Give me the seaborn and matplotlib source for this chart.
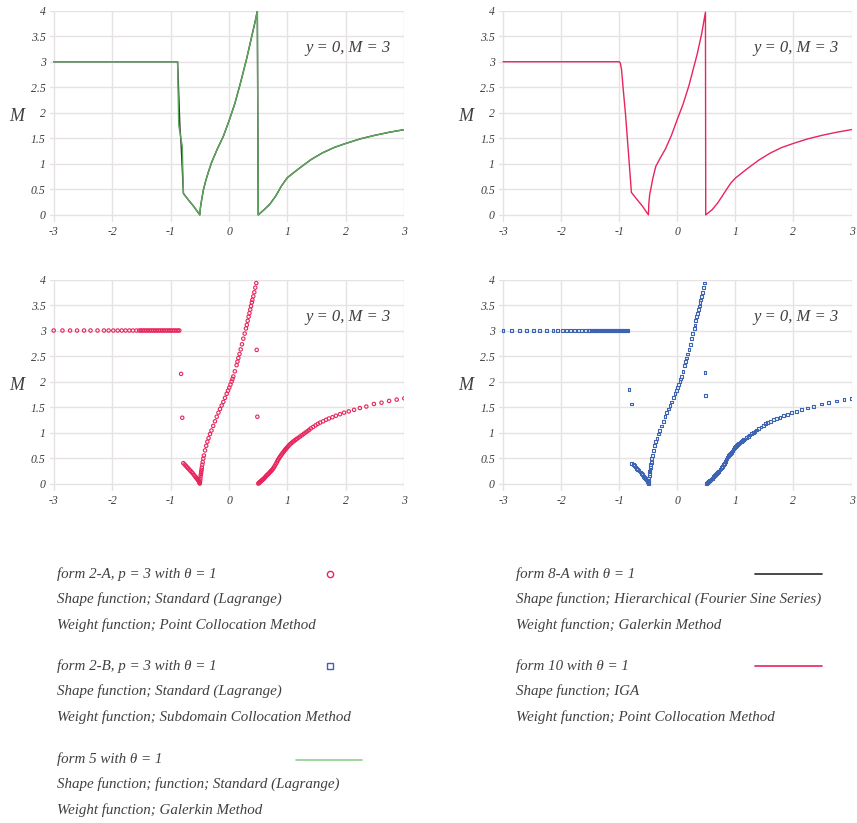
import numpy as np
import pandas as pd
import matplotlib
matplotlib.use("Agg")
import matplotlib.pyplot as plt
from matplotlib.lines import Line2D
import seaborn as sns

# ---------------------------------------------------------------------------
# Data: M along the line y = 0 for M = 3
# ---------------------------------------------------------------------------
# collocation results (shared branches)
flat_x = [-3.0, -2.85, -2.72, -2.60, -2.48, -2.37, -2.25, -2.14, -2.06, -1.98,
          -1.905, -1.835, -1.77, -1.705, -1.645, -1.585, -1.535, -1.505, -1.475,
          -1.445, -1.415, -1.385, -1.355, -1.325, -1.295, -1.265, -1.235, -1.205,
          -1.175, -1.145, -1.115, -1.085, -1.055, -1.025, -0.995, -0.965, -0.935,
          -0.905, -0.875, -0.85]
flat_m = [3.0, 3.0, 3.0, 3.0, 3.0, 3.0, 3.0, 3.0, 3.0, 3.0,
          3.0, 3.0, 3.0, 3.0, 3.0, 3.0, 3.0, 3.0, 3.0,
          3.0, 3.0, 3.0, 3.0, 3.0, 3.0, 3.0, 3.0, 3.0,
          3.0, 3.0, 3.0, 3.0, 3.0, 3.0, 3.0, 3.0, 3.0,
          3.0, 3.0, 3.0]

fall_x = [-0.782, -0.76, -0.74, -0.72, -0.70, -0.68, -0.66, -0.64, -0.62, -0.60,
          -0.58, -0.565, -0.55, -0.54, -0.53, -0.52, -0.51, -0.505, -0.50]
fall_m = [0.40, 0.375, 0.35, 0.325, 0.30, 0.275, 0.25, 0.225, 0.20, 0.17,
          0.14, 0.12, 0.10, 0.085, 0.07, 0.05, 0.035, 0.02, 0.0]

rise_x = [-0.498, -0.495, -0.49, -0.485, -0.48, -0.475, -0.47, -0.465, -0.457,
          -0.45, -0.44, -0.43, -0.41, -0.39, -0.37, -0.35, -0.325, -0.30, -0.27,
          -0.24, -0.21, -0.18, -0.154, -0.125, -0.097, -0.068, -0.04, -0.017,
          0.005, 0.025, 0.046, 0.06, 0.074, 0.10, 0.13, 0.145, 0.16, 0.18, 0.20,
          0.222, 0.245, 0.268, 0.29, 0.305, 0.32, 0.335, 0.35, 0.364, 0.377,
          0.39, 0.40, 0.416, 0.433, 0.45, 0.467]
rise_m = [0.02, 0.06, 0.10, 0.15, 0.19, 0.23, 0.27, 0.31, 0.37,
          0.42, 0.49, 0.55, 0.65, 0.74, 0.82, 0.89, 0.97, 1.04, 1.13,
          1.22, 1.31, 1.39, 1.46, 1.53, 1.60, 1.68, 1.76, 1.82,
          1.88, 1.94, 2.00, 2.05, 2.10, 2.20, 2.32, 2.39, 2.46, 2.54, 2.63,
          2.73, 2.84, 2.94, 3.04, 3.11, 3.19, 3.27, 3.34, 3.41, 3.48,
          3.55, 3.60, 3.67, 3.75, 3.84, 3.93]

tail_x = [0.502, 0.51, 0.52, 0.53, 0.54, 0.55, 0.56, 0.57, 0.58, 0.59, 0.60,
          0.615, 0.63, 0.645, 0.66, 0.675, 0.69, 0.705, 0.72, 0.735, 0.75,
          0.765, 0.78, 0.795, 0.81, 0.825, 0.84, 0.855, 0.87, 0.885, 0.90,
          0.915, 0.93, 0.945, 0.96, 0.975, 0.99, 1.005, 1.02, 1.04, 1.06, 1.08,
          1.10, 1.12, 1.14, 1.16, 1.19, 1.22, 1.25, 1.28, 1.31, 1.34, 1.37,
          1.40, 1.44, 1.48, 1.52, 1.56, 1.61, 1.66, 1.71, 1.77, 1.83, 1.90,
          1.97, 2.05, 2.14, 2.24, 2.35, 2.48, 2.61, 2.74, 2.87, 3.0]
tail_m = [0.00, 0.01, 0.02, 0.03, 0.04, 0.05, 0.06, 0.07, 0.08, 0.09, 0.10,
          0.12, 0.14, 0.16, 0.175, 0.19, 0.21, 0.23, 0.245, 0.265, 0.285,
          0.31, 0.34, 0.37, 0.40, 0.435, 0.465, 0.495, 0.52, 0.545, 0.57,
          0.595, 0.615, 0.64, 0.66, 0.68, 0.70, 0.72, 0.74, 0.765, 0.785, 0.805,
          0.825, 0.84, 0.86, 0.875, 0.90, 0.925, 0.95, 0.975, 1.00, 1.025, 1.05,
          1.08, 1.11, 1.14, 1.17, 1.195, 1.22, 1.25, 1.275, 1.30, 1.33, 1.36,
          1.39, 1.415, 1.445, 1.48, 1.51, 1.56, 1.585, 1.62, 1.645, 1.67]

# isolated values at the two discontinuities
jump_x_2a = [-0.82, -0.80, 0.474, 0.485]
jump_m_2a = [2.15, 1.29, 2.62, 1.31]
jump_x_2b = [-0.83, -0.79, 0.477, 0.485]
jump_m_2b = [1.85, 1.56, 2.18, 1.73]

# continuous solutions
form5_x = [-3.0, -0.88, -0.86, -0.80, -0.78, -0.70, -0.60, -0.50, -0.49, -0.47,
           -0.44, -0.40, -0.35, -0.30, -0.20, -0.10, 0.0, 0.10, 0.20, 0.30,
           0.40, 0.45, 0.485, 0.50, 0.60, 0.70, 0.80, 0.90, 1.0, 1.2, 1.4, 1.6,
           1.8, 2.0, 2.25, 2.5, 2.75, 3.0]
form5_m = [3.0, 3.0, 1.75, 1.35, 0.42, 0.30, 0.16, 0.0, 0.13, 0.28,
           0.48, 0.66, 0.85, 1.02, 1.29, 1.53, 1.84, 2.18, 2.60, 3.05,
           3.55, 3.80, 4.0, 0.0, 0.10, 0.21, 0.37, 0.57, 0.73, 0.91, 1.08, 1.215,
           1.32, 1.40, 1.49, 1.56, 1.62, 1.67]

form8a_x = [-3.0, -0.88, -0.84, -0.82, -0.78, -0.70, -0.60, -0.50, -0.49, -0.47,
            -0.44, -0.40, -0.35, -0.30, -0.20, -0.10, 0.0, 0.10, 0.20, 0.30,
            0.40, 0.45, 0.485, 0.50, 0.60, 0.70, 0.80, 0.90, 1.0, 1.2, 1.4, 1.6,
            1.8, 2.0, 2.25, 2.5, 2.75, 3.0]
form8a_m = [3.0, 3.0, 1.72, 1.40, 0.42, 0.30, 0.16, 0.0, 0.13, 0.28,
            0.48, 0.66, 0.85, 1.02, 1.29, 1.53, 1.84, 2.18, 2.60, 3.05,
            3.55, 3.80, 4.0, 0.0, 0.10, 0.21, 0.37, 0.57, 0.73, 0.91, 1.08, 1.215,
            1.32, 1.40, 1.49, 1.56, 1.62, 1.67]

form10_x = [-3.0, -1.0, -0.98, -0.96, -0.93, -0.89, -0.85, -0.83, -0.79, -0.70,
            -0.60, -0.497, -0.49, -0.475, -0.457, -0.42, -0.37, -0.30, -0.20,
            -0.10, 0.0, 0.10, 0.20, 0.343, 0.42, 0.485, 0.49, 0.60, 0.70, 0.77,
            0.85, 0.92, 1.0, 1.2, 1.4, 1.6, 1.8, 2.0, 2.25, 2.5, 2.75, 3.0]
form10_m = [3.0, 3.0, 2.97, 2.85, 2.45, 1.95, 1.35, 1.05, 0.44, 0.31,
            0.17, 0.0, 0.22, 0.40, 0.50, 0.72, 0.95, 1.10, 1.30,
            1.56, 1.87, 2.17, 2.53, 3.15, 3.55, 3.97, 0.0, 0.10, 0.24, 0.36,
            0.50, 0.62, 0.72, 0.90, 1.07, 1.21, 1.32, 1.40, 1.49, 1.56, 1.62, 1.67]

x_ticks = [-3, -2, -1, 0, 1, 2, 3]
y_ticks = [0, 0.5, 1, 1.5, 2, 2.5, 3, 3.5, 4]
y_tick_labels = ["0", "0.5", "1", "1.5", "2", "2.5", "3", "3.5", "4"]
panel_note = "y = 0, M = 3"

legend_entries = [
    ["form 2-A, p = 3 with θ = 1", "Shape function; Standard (Lagrange)",
     "Weight function; Point Collocation Method"],
    ["form 2-B, p = 3 with θ = 1", "Shape function; Standard (Lagrange)",
     "Weight function; Subdomain Collocation Method"],
    ["form 5 with θ = 1", "Shape function; function; Standard (Lagrange)",
     "Weight function; Galerkin Method"],
    ["form 8-A with θ = 1", "Shape function; Hierarchical (Fourier Sine Series)",
     "Weight function; Galerkin Method"],
    ["form 10 with θ = 1", "Shape function; IGA",
     "Weight function; Point Collocation Method"],
]

# ---------------------------------------------------------------------------
# Style
# ---------------------------------------------------------------------------
C_RED = "#e8245c"
C_BLUE = "#3d63b3"
C_GREEN = "#5aa95a"
C_GREEN_LEG = "#8fd08f"
C_BLACK = "#2a2a2a"
C_GRID = "#e6e1e4"
C_TEXT = "#404040"

sns.set_theme(style="white")
plt.rcParams["font.family"] = ["Liberation Serif", "DejaVu Serif"]
plt.rcParams["font.style"] = "italic"

W, H = 857, 823
fig = plt.figure(figsize=(W / 100, H / 100), dpi=100)


def px_axes(left, top, right, bottom):
    return fig.add_axes([left / W, 1 - bottom / H, (right - left) / W, (bottom - top) / H])


def style_axes(ax):
    ax.set_xlim(-3.07, 3.0)
    ax.set_ylim(-0.14, 4.0)
    ax.set_xticks(x_ticks)
    ax.set_xticklabels([str(t) for t in x_ticks])
    ax.set_yticks(y_ticks)
    ax.set_yticklabels(y_tick_labels)
    ax.grid(True, color=C_GRID, linewidth=1.0)
    ax.set_axisbelow(True)
    for s in ax.spines.values():
        s.set_visible(False)
    ax.tick_params(length=0, labelsize=8.5, colors=C_TEXT, pad=3)
    for lab in ax.get_xticklabels() + ax.get_yticklabels():
        lab.set_fontstyle("italic")
    ax.set_xlabel("")
    ax.set_ylabel("M", rotation=0, fontsize=13, color=C_TEXT, labelpad=10,
                  fontstyle="italic", va="center")
    ax.text(2.77, 3.27, panel_note, ha="right", va="center", fontsize=12,
            color=C_TEXT, fontstyle="italic")


def line(ax, xs, ms, color, lw=1.0):
    df = pd.DataFrame({"x": xs, "M": ms})
    sns.lineplot(data=df, x="x", y="M", ax=ax, color=color, linewidth=lw,
                 sort=False, estimator=None)


def points(ax, xs, ms, color, marker, size):
    df = pd.DataFrame({"x": xs, "M": ms})
    sns.scatterplot(data=df, x="x", y="M", ax=ax, marker=marker, s=size,
                    linewidth=0.8)
    pc = ax.collections[-1]
    pc.set_facecolor("none")
    pc.set_edgecolor(color)
    pc.set_linewidth(0.8)


# column positions in pixels (left/right edge of each data area)
L_LEFT, L_RIGHT = 49.6, 404.3
R_LEFT, R_RIGHT = 499.0, 851.5

# top-left: form 8-A (under) and form 5
ax1 = px_axes(L_LEFT, 10.7, L_RIGHT, 222)
line(ax1, form8a_x, form8a_m, C_BLACK, 1.0)
line(ax1, form5_x, form5_m, C_GREEN, 1.0)
style_axes(ax1)

# top-right: form 10
ax2 = px_axes(R_LEFT, 10.7, R_RIGHT, 222)
line(ax2, form10_x, form10_m, C_RED, 1.0)
style_axes(ax2)

# bottom-left: form 2-A
ax3 = px_axes(L_LEFT, 279.5, L_RIGHT, 490.7)
for xs, ms in [(flat_x, flat_m), (fall_x, fall_m), (rise_x, rise_m),
               (tail_x, tail_m), (jump_x_2a, jump_m_2a)]:
    points(ax3, xs, ms, C_RED, "o", 6)
style_axes(ax3)

# bottom-right: form 2-B
ax4 = px_axes(R_LEFT, 279.5, R_RIGHT, 490.7)
for xs, ms in [(flat_x, flat_m), (fall_x, fall_m), (rise_x, rise_m),
               (tail_x, tail_m), (jump_x_2b, jump_m_2b)]:
    points(ax4, xs, ms, C_BLUE, "s", 4)
style_axes(ax4)

# ---------------------------------------------------------------------------
# Legend block
# ---------------------------------------------------------------------------
def fx(p):
    return p / W


def fy(p):
    return 1 - p / H


blocks = [(57, 574), (57, 666), (57, 759), (516, 574), (516, 666)]
row_gap = 25.5
for (bx, by), lines_ in zip(blocks, legend_entries):
    for i, t in enumerate(lines_):
        fig.text(fx(bx), fy(by + i * row_gap), t, fontsize=10.8, color=C_TEXT,
                 ha="left", va="center", fontstyle="italic")

fig.add_artist(Line2D([fx(330)], [fy(574)], marker="o", markersize=4.5,
                      markerfacecolor="none", markeredgecolor=C_RED,
                      markeredgewidth=1.0, transform=fig.transFigure))
fig.add_artist(Line2D([fx(330)], [fy(666)], marker="s", markersize=4.5,
                      markerfacecolor="none", markeredgecolor=C_BLUE,
                      markeredgewidth=1.0, transform=fig.transFigure))
fig.add_artist(Line2D([fx(296), fx(362)], [fy(760), fy(760)], color=C_GREEN_LEG,
                      linewidth=1.2, transform=fig.transFigure))
fig.add_artist(Line2D([fx(755), fx(822)], [fy(574), fy(574)], color=C_BLACK,
                      linewidth=1.2, transform=fig.transFigure))
fig.add_artist(Line2D([fx(755), fx(822)], [fy(666), fy(666)], color=C_RED,
                      linewidth=1.2, transform=fig.transFigure))

fig.savefig("out.png", dpi=100)
